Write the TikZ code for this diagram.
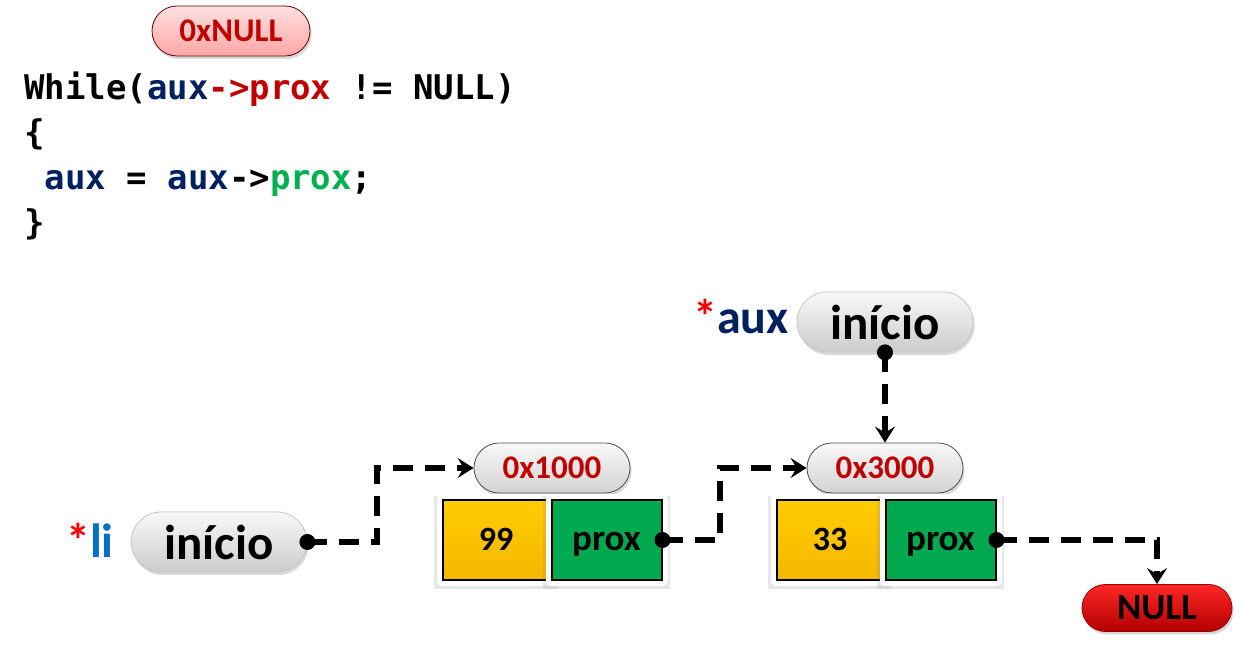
\documentclass[tikz,border=0pt]{standalone}
\usepackage{fontspec}
\setmainfont{Carlito}
\setmonofont{DejaVu Sans Mono}
\usetikzlibrary{shapes.misc,arrows.meta,shadows,positioning}
\definecolor{navy}{RGB}{0,32,96}
\definecolor{addrred}{RGB}{192,0,0}
\definecolor{codegreen}{RGB}{0,176,80}
\definecolor{liblue}{RGB}{0,112,192}
\definecolor{staryellow}{RGB}{255,204,0}
\definecolor{cellyellow}{RGB}{244,184,0}
\definecolor{cellgreen}{RGB}{0,168,80}
\newcommand{\codefont}{\fontsize{17}{20}\selectfont\ttfamily\bfseries}
\tikzset{
  pill/.style     = {rounded rectangle, inner sep=0pt,
                     drop shadow={opacity=.3, shadow xshift=.8pt, shadow yshift=-1.5pt}},
  ptrpill/.style  = {pill, minimum width=88pt, minimum height=30pt, draw=gray!45,
                     top color=gray!5, bottom color=gray!40,
                     font=\fontsize{24.5}{28}\selectfont\bfseries},
  addrpill/.style = {pill, minimum width=78pt, minimum height=25pt, draw=black!70,
                     top color=gray!5, bottom color=gray!35, text=addrred,
                     font=\fontsize{16.5}{20}\selectfont\bfseries},
  nullpill/.style = {pill, minimum width=75pt, minimum height=23.5pt, draw=red!60!black,
                     top color=red!85!white, bottom color=red!70!black,
                     font=\fontsize{18.5}{22}\selectfont\bfseries},
  pinkpill/.style = {pill, minimum width=79pt, minimum height=25pt, draw=red!40!black,
                     top color=red!12, bottom color=red!35, text=addrred,
                     font=\fontsize{16.5}{20}\selectfont\bfseries},
  cell/.style     = {rectangle, draw=black, line width=1pt, minimum height=40pt,
                     text height=11pt, text depth=0pt,
                     drop shadow={opacity=.18, shadow scale=1.16,
                                  shadow xshift=0pt, shadow yshift=-1pt},
                     preaction={draw=white, line width=6pt, line join=round}},
  dado/.style     = {cell, minimum width=53.5pt, top color=staryellow, bottom color=cellyellow,
                     font=\fontsize{17}{20}\selectfont\bfseries},
  proxcell/.style = {cell, minimum width=55pt, fill=cellgreen,
                     font=\fontsize{18.5}{20}\selectfont\bfseries},
  code/.style     = {anchor=base west, inner sep=0pt, font=\codefont},
  ptrname/.style  = {anchor=base east, inner sep=0pt, font=\fontsize{24}{28}\selectfont\bfseries},
  link/.style     = {line width=3pt, dash pattern=on 10pt off 6pt,
                     -{Stealth[length=8pt, width=10pt, inset=3pt]}}
}

\begin{document}
\begin{tikzpicture}[x=0.5pt, y=-0.5pt]
	\useasboundingbox (0,0) rectangle (1242,672);
	% code
	\node[pinkpill] (nul0) at (231,31) {0xNULL};
	\node[code] (c1) at (24,100) {While({\color{navy}aux}{\color{addrred}->prox} != NULL)};
	\node[code] (c2) at (24,145) {\{};
	\node[code] (c3) at (24,190) {\ {\color{navy}aux} = {\color{navy}aux}->{\color{codegreen}prox};};
	\node[code] (c4) at (24,235) {\}};
	% pointers
	\node[ptrpill] (li) at (219,542) {início};
	\node[ptrname] (liname) at (114,558) {{\color{red}*}{\color{liblue}li}};
	\node[ptrpill] (aux) at (885,322) {início};
	\node[ptrname] (auxname) at (789,334) {{\color{red}*}{\color{navy}aux}};
	% list nodes
	\node[addrpill] (a1) at (552,468) {0x1000};
	\node[dado] (d1) at (496,540) {99};
	\node[proxcell, right=0pt of d1] (p1) {prox};
	\node[addrpill] (a2) at (885,468) {0x3000};
	\node[dado] (d2) at (830,540) {33};
	\node[proxcell, right=0pt of d2] (p2) {prox};
	\node[nullpill] (nul) at (1157,608) {NULL};
	% links
	\draw[link] (li.east) -- ++(70,0) |- (a1.west);
	\draw[link] (p1.east) -- ++(57,0) |- (a2.west);
	\draw[link] (p2.east) -| (nul.north);
	\draw[link] (aux.south) -- (a2.north);
	\foreach \n in {li.east, p1.east, p2.east, aux.south}
		\fill (\n) circle (4pt);
\end{tikzpicture}
\end{document}
